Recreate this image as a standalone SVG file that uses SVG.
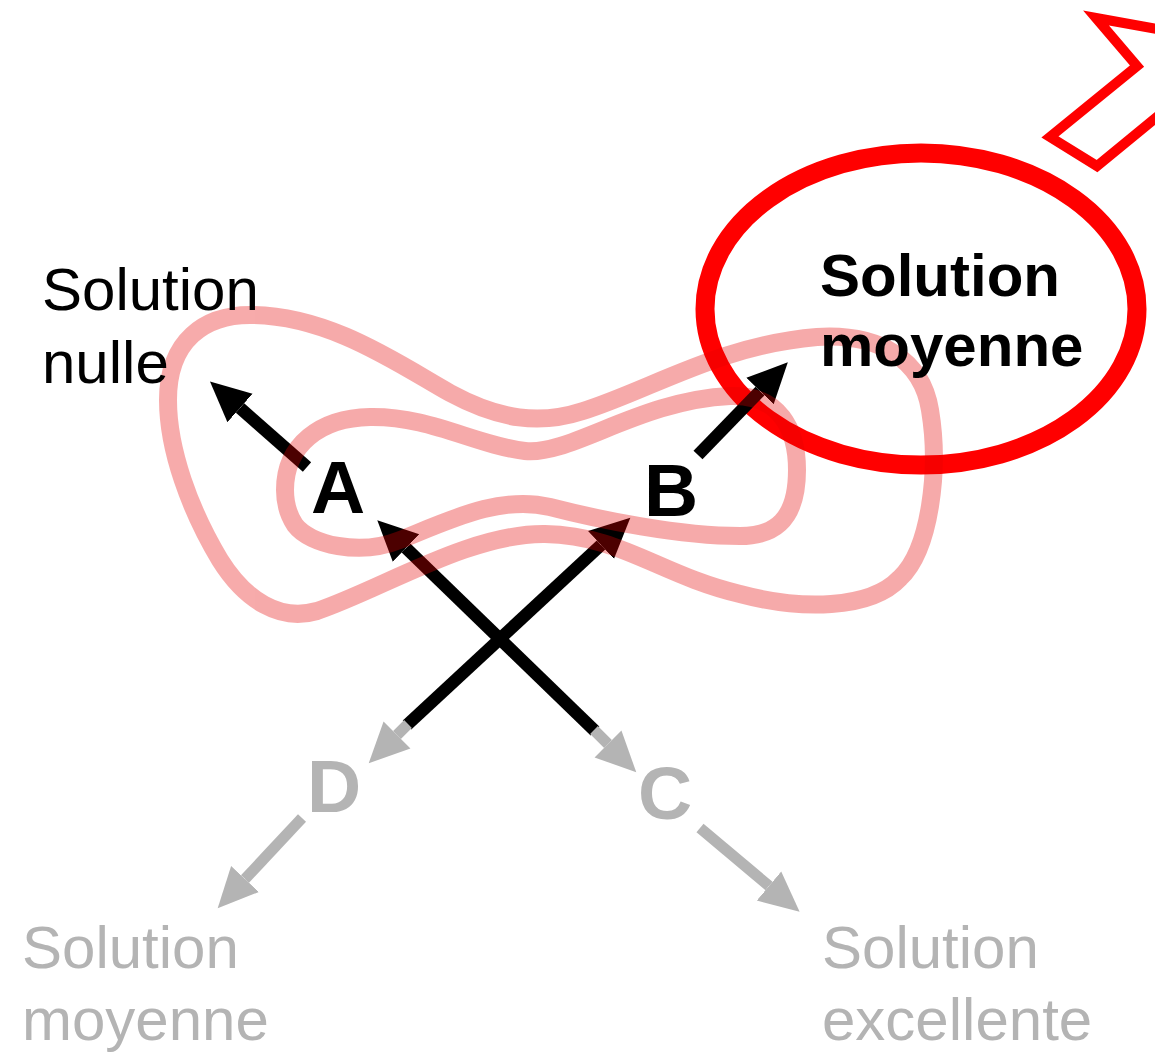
<svg xmlns="http://www.w3.org/2000/svg" width="1155" height="1053" viewBox="0 0 1155 1053">
<defs>
<style>
.lbl{font-family:"Liberation Sans",Arial,sans-serif;font-size:60px}
.blk{fill:#000}
.gry{fill:#b4b4b4}
.bold{font-weight:bold}
.let{font-family:"Liberation Sans",Arial,sans-serif;font-size:75px;font-weight:bold}
.pink{fill:none;stroke:#e60000;stroke-width:18;stroke-linejoin:round}
.ab{fill:none;stroke:#000;stroke-width:12.5}
.ag{fill:none;stroke:#b4b4b4;stroke-width:11}
</style>
<marker id="hb" markerUnits="userSpaceOnUse" markerWidth="42" markerHeight="40" viewBox="0 -20 42 40" refX="0" refY="0" orient="auto">
<path d="M0,-19 L40,0 L0,19 z" fill="#000"/>
</marker>
<marker id="hg" markerUnits="userSpaceOnUse" markerWidth="42" markerHeight="40" viewBox="0 -20 42 40" refX="0" refY="0" orient="auto">
<path d="M0,-19 L40,0 L0,19 z" fill="#b4b4b4"/>
</marker>
</defs>
<rect width="1155" height="1053" fill="#fff"/>

<g id="bolt">
<polygon points="1096,18 1137,66 1050,137 1097,166 1185,94 1185,34" fill="none" stroke="#f00" stroke-width="10"/>
</g>

<g id="highlight">
<ellipse cx="921" cy="309" rx="216" ry="156" fill="none" stroke="#f00" stroke-width="19"/>
</g>

<g id="connectors">
<line class="ab" x1="307" y1="467" x2="240" y2="408" marker-end="url(#hb)"/>
<line class="ab" x1="698" y1="455" x2="760" y2="391" marker-end="url(#hb)"/>
<line class="ab" x1="407" y1="725" x2="601" y2="545" marker-end="url(#hb)"/>
<line class="ag" x1="408" y1="724" x2="397" y2="735" marker-end="url(#hg)"/>
<line class="ab" x1="595" y1="731" x2="406" y2="548" marker-end="url(#hb)"/>
<line class="ag" x1="594" y1="730" x2="608" y2="744" marker-end="url(#hg)"/>
<line class="ag" x1="302" y1="818" x2="245" y2="879" marker-end="url(#hg)"/>
<line class="ag" x1="700" y1="828" x2="769" y2="886" marker-end="url(#hg)"/>
</g>

<g id="contours" opacity="0.33">
<path class="pink" d="M250,315 C330,315 400,365 450,393 C500,420 540,425 583,411 C650,390 720,345 817,337 C880,333 922,360 930,410 C940,470 930,550 900,578 C870,610 800,610 740,594 C660,575 620,535 545,534 C470,533 380,590 317,611 C280,622 245,600 220,560 C190,510 168,450 168,400 C168,340 205,315 250,315 Z"/>
<path class="pink" d="M285,490 C285,445 320,418 370,417 C430,416 475,445 525,451 C570,456 640,400 730,396 C780,394 797,430 797,470 C797,520 775,536 740,536 C680,536 600,520 550,507 C500,495 450,520 400,540 C360,556 310,545 295,525 C287,513 285,500 285,490 Z"/>
</g>

<g id="node-nulle">
<text class="lbl blk" x="42" y="310">Solution</text>
<text class="lbl blk" x="42" y="383">nulle</text>
</g>
<g id="node-moyenne-top">
<text class="lbl blk bold" x="820" y="296">Solution</text>
<text class="lbl blk bold" x="820" y="366">moyenne</text>
</g>
<g id="node-A"><text class="let blk" x="311" y="513">A</text></g>
<g id="node-B"><text class="let blk" x="644" y="516">B</text></g>
<g id="node-D"><text class="let gry" x="307" y="812">D</text></g>
<g id="node-C"><text class="let gry" x="638" y="819">C</text></g>
<g id="node-moyenne-bottom">
<text class="lbl gry" x="22" y="968">Solution</text>
<text class="lbl gry" x="22" y="1040">moyenne</text>
</g>
<g id="node-excellente">
<text class="lbl gry" x="822" y="968">Solution</text>
<text class="lbl gry" x="822" y="1040">excellente</text>
</g>
</svg>
